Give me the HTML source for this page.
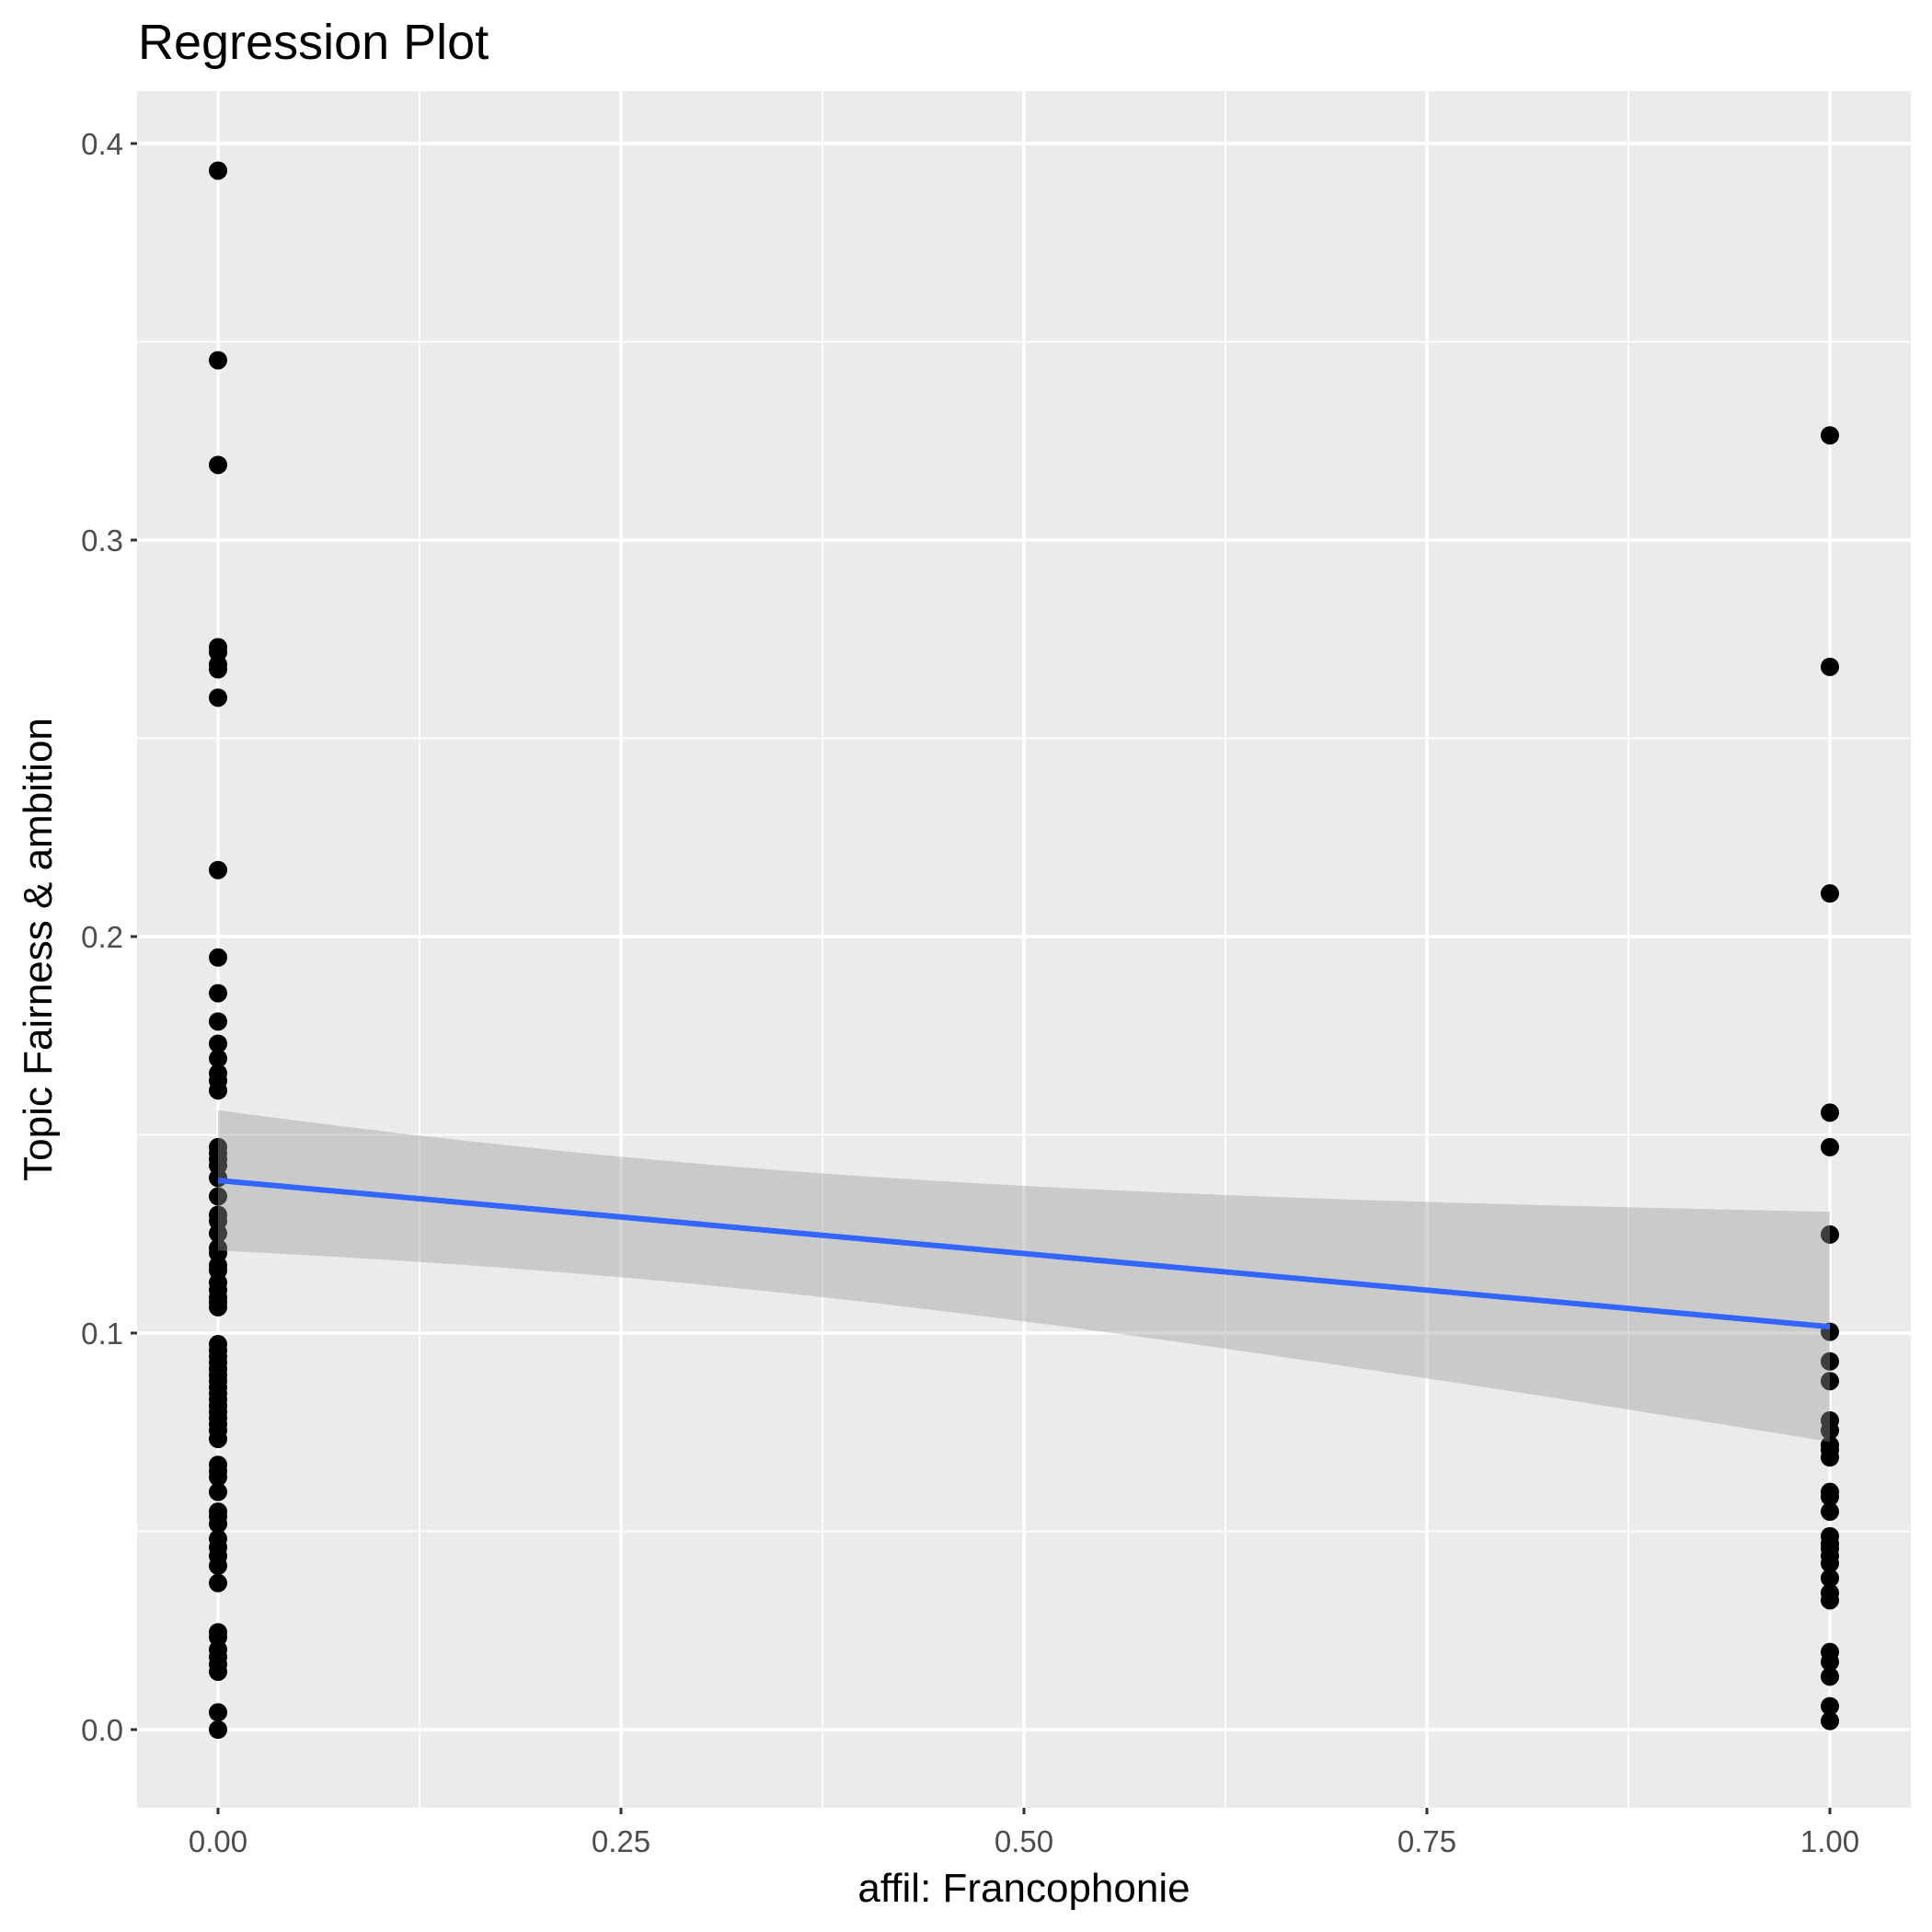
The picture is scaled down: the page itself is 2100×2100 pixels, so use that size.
<!DOCTYPE html>
<html><head><meta charset="utf-8"><style>
html,body{margin:0;padding:0;background:#fff;}
svg{display:block;font-family:"Liberation Sans",Arial,sans-serif;}
</style></head><body>
<svg id="s" width="2100" height="2100" xmlns="http://www.w3.org/2000/svg">
<rect x="149" y="99" width="1928" height="1866" fill="#ebebeb"/>
<g id="grid"></g>
<g id="pts"></g>
<g id="fit"></g>
<g id="ax" fill="#4d4d4d" font-size="33"></g>
<text x="150" y="64" font-size="54" fill="#000">Regression Plot</text>
<text x="1113" y="2067" font-size="44" fill="#000" text-anchor="middle">affil: Francophonie</text>
<text transform="translate(56,1032) rotate(-90)" font-size="44" fill="#000" text-anchor="middle">Topic Fairness &amp; ambition</text>
</svg>
<script>
var NS="http://www.w3.org/2000/svg";
function X(v){return 237+1752*v;}
function Y(v){return 1880-4310*v;}
function el(p,t,a,txt){var e=document.createElementNS(NS,t);for(var k in a)e.setAttribute(k,a[k]);if(txt!==undefined)e.textContent=txt;document.getElementById(p).appendChild(e);return e;}
for(var i=0;i<9;i++){var v=i*0.05;var y=Y(v);if(y<99||y>1965)continue;el("grid","line",{x1:149,x2:2077,y1:y,y2:y,stroke:"#fff","stroke-width":i%2?1.7:3.4});}
for(var i=0;i<9;i++){var v=i*0.125;var x=X(v);if(x<149||x>2077)continue;el("grid","line",{x1:x,x2:x,y1:99,y2:1965,stroke:"#fff","stroke-width":i%2?1.7:3.4});}
var L=[137,291,376,524,528,538,542,565,705,776,805,828,846,858,870,876,884,930,935,940,945,955,970,985,990,1000,1012,1016,1026,1030,1040,1046,1052,1056,1060,1090,1095,1100,1105,1110,1115,1120,1125,1130,1135,1140,1145,1150,1155,1160,1167,1188,1193,1198,1210,1226,1230,1236,1248,1255,1262,1270,1284,1324,1328,1338,1344,1350,1356,1389,1403];
var R=[352,540,724,902,930,1001,1080,1104,1120,1152,1160,1172,1176,1182,1210,1214,1226,1246,1252,1256,1262,1268,1280,1292,1298,1340,1348,1360,1384,1396];
function cy(d){return 1880-(1403-d)*1.3385;}
L.forEach(function(d){el("pts","circle",{cx:X(0),cy:cy(d),r:10,fill:"#000"});});
R.forEach(function(d){el("pts","circle",{cx:X(1),cy:cy(d),r:10,fill:"#000"});});
var up=[],lo=[];
for(var i=0;i<=80;i++){var x=i/80;var m=0.1385-0.0369*x;var h=Math.sqrt(Math.max(0.000313-0.000612*x+0.00114*x*x,0));up.push(X(x).toFixed(1)+","+Y(m+h).toFixed(1));lo.unshift(X(x).toFixed(1)+","+Y(m-h).toFixed(1));}
el("fit","polygon",{points:up.concat(lo).join(" "),fill:"#999999","fill-opacity":0.4});
el("fit","line",{x1:X(0),y1:Y(0.1385),x2:X(1),y2:Y(0.1016),stroke:"#3366ff","stroke-width":6});
["0.0","0.1","0.2","0.3","0.4"].forEach(function(t,i){var y=Y(i*0.1);el("ax","line",{x1:142,x2:149,y1:y,y2:y,stroke:"#333","stroke-width":3});el("ax","text",{x:134,y:y+12,"text-anchor":"end"},t);});
["0.00","0.25","0.50","0.75","1.00"].forEach(function(t,i){var x=X(i*0.25);el("ax","line",{x1:x,x2:x,y1:1965,y2:1972,stroke:"#333","stroke-width":3});el("ax","text",{x:x,y:2013,"text-anchor":"middle"},t);});
</script>
</body></html>
